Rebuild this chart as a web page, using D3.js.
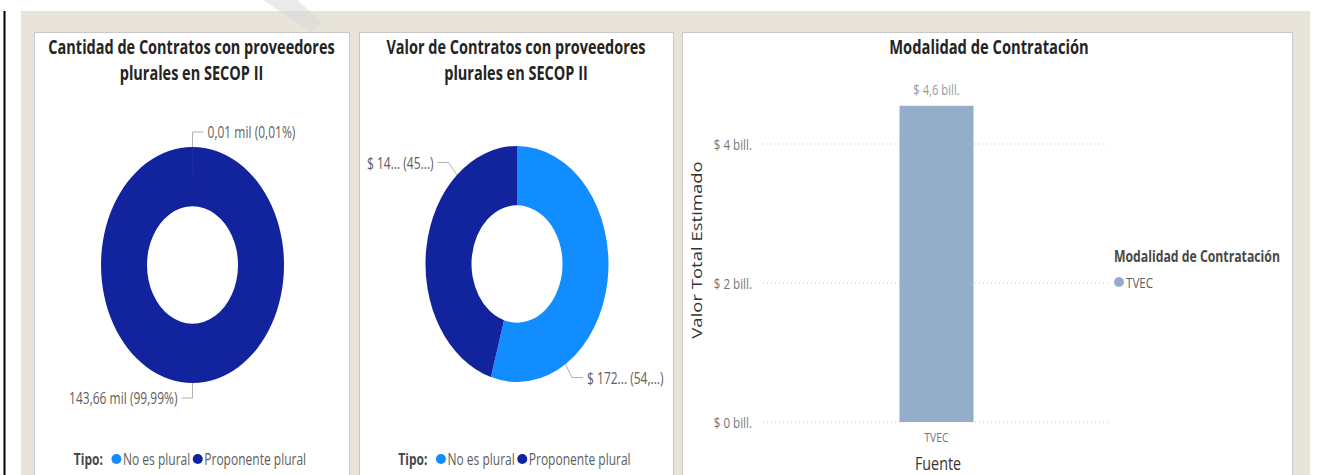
<!DOCTYPE html>
<html>
<head>
<meta charset="utf-8">
<script src="https://cdn.jsdelivr.net/npm/d3@7"></script>
<style>
  body { margin: 0; background: #fff; }
  svg text { font-family: "Open Sans", "Noto Sans", sans-serif; }
</style>
</head>
<body>
<svg id="chart" width="1317" height="475"></svg>
<script>
// data
const tipos = ["No es plural", "Proponente plural"];
const tipoColors = ["#118dff", "#12239e"];
const cantidadValues = [0.01, 143.66];          // mil contratos
const cantidadLabels = ["0,01 mil (0,01%)", "143,66 mil (99,99%)"];
const valorValues = [172, 143];                  // truncated in the visual
const valorLabels = ["$ 172... (54,...)", "$ 14... (45...)"];
const modalidades = ["TVEC"];
const modalidadValues = [4.55];                  // billones
const modalidadLabels = ["$ 4,6 bill."];
const yTicks = [0, 2, 4];

const sx = 0.775; // the screenshot is squeezed horizontally
const svg = d3.select("#chart");

function txt(parent, s, x, y, o = {}) {
    return parent.append("text")
        .attr("transform", `translate(${x},${y}) scale(${sx},1)` + (o.rotate ? ` rotate(${o.rotate})` : ""))
        .attr("text-anchor", o.anchor || "start")
        .attr("dominant-baseline", "central")
        .style("font-size", (o.size || 13) + "px")
        .style("font-weight", o.bold ? 700 : 400)
        .attr("fill", o.fill || "#605e5c")
        .text(s);
}

// page frame
svg.append("line").attr("x1", 4.5).attr("x2", 4.5).attr("y1", 11).attr("y2", 475)
    .attr("stroke", "#000").attr("stroke-width", 2);
svg.append("rect").attr("x", 21).attr("y", 11).attr("width", 1289).attr("height", 470).attr("fill", "#e8e4da");
svg.append("polygon").attr("points", "263,0 297,0 322,22 311,32").attr("fill", "#d6d6d6").attr("opacity", 0.5);

const panels = [
    {x: 34, w: 315},
    {x: 359, w: 314},
    {x: 682, w: 610}
];
panels.forEach(p => {
    svg.append("rect").attr("x", p.x + 0.5).attr("y", 32.5).attr("width", p.w).attr("height", 460)
        .attr("fill", "#fff").attr("stroke", "#c8c8c8");
});

// donuts
const rx = 91.5, ry = 118, inner = 45.5;
const pie = d3.pie().sort(null);
const arc = d3.arc().innerRadius(inner).outerRadius(rx);

function donut(panel, cx, cy, titleLines, values, labels, labelAngles) {
    const pc = panel.x + panel.w / 2;
    titleLines.forEach((t, i) => txt(svg, t, pc, 47 + i * 26, {anchor: "middle", size: 18.7, bold: true, fill: "#252423"}));

    const pieData = pie(values);
    const g = svg.append("g").attr("transform", `translate(${cx},${cy}) scale(1,${ry / rx})`);
    g.selectAll("path").data(pieData).join("path")
        .attr("d", arc)
        .attr("fill", (d, i) => tipoColors[i]);

    pieData.forEach((d, i) => {
        const a = labelAngles ? labelAngles[i] * Math.PI / 180 : (d.startAngle + d.endAngle) / 2;
        const ux = Math.sin(a), uy = -Math.cos(a);
        const p0 = [cx + rx * ux, cy + ry * uy];
        const len = 15;
        const n = Math.hypot(ux * rx, uy * ry);
        const p1 = [p0[0] + len * ux * rx / n, p0[1] + len * uy * ry / n];
        const right = ux >= 0;
        const p2 = [p1[0] + (right ? 11 : -11), p1[1]];
        svg.append("polyline").attr("points", [p0, p1, p2].join(" "))
            .attr("fill", "none").attr("stroke", "#b0b0b0").attr("stroke-width", 1);
        txt(svg, labels[i], p2[0] + (right ? 4 : -4), p2[1], {anchor: right ? "start" : "end", size: 15.5});
    });

    // legend
    const lg = svg.append("g");
    let x = 0;
    const t0 = txt(lg, "Tipo:", 0, 459, {size: 15.5, bold: true, fill: "#494744"});
    x += t0.node().getComputedTextLength() * sx + 9;
    tipos.forEach((t, i) => {
        lg.append("circle").attr("cx", x + 4.5).attr("cy", 459).attr("r", 5).attr("fill", tipoColors[i]);
        const tt = txt(lg, t, x + 11, 459, {size: 15.5});
        x += 11 + tt.node().getComputedTextLength() * sx + 3;
    });
    lg.attr("transform", `translate(${pc - x / 2},0)`);
}

donut(panels[0], 192.5, 265, ["Cantidad de Contratos con proveedores", "plurales en SECOP II"],
    cantidadValues, cantidadLabels, null);
donut(panels[1], 517, 264, ["Valor de Contratos con proveedores", "plurales en SECOP II"],
    valorValues, valorLabels, [148, 319]);

// bar chart
const p3 = panels[2];
txt(svg, "Modalidad de Contratación", p3.x + p3.w / 2 + 2, 47, {anchor: "middle", size: 19, bold: true, fill: "#252423"});

const x = d3.scaleBand().domain(modalidades).range([763, 1110]).paddingInner(0.2).paddingOuter(1.475);
const y = d3.scaleLinear().domain([0, 4]).range([422, 144]);

svg.append("g").selectAll("line").data(yTicks).join("line")
    .attr("x1", 763).attr("x2", 1110)
    .attr("y1", d => y(d)).attr("y2", d => y(d))
    .attr("stroke", "#c8c8c8").attr("stroke-dasharray", "1,3");
yTicks.forEach(t => txt(svg, `$ ${t} bill.`, 752, y(t), {anchor: "end", size: 15, fill: "#777"}));

svg.append("g").selectAll("rect").data(modalidadValues).join("rect")
    .attr("x", (d, i) => x(modalidades[i]))
    .attr("width", x.bandwidth())
    .attr("y", d => y(d))
    .attr("height", d => y(0) - y(d))
    .attr("fill", "#94aec9");
modalidadValues.forEach((d, i) => {
    txt(svg, modalidadLabels[i], x(modalidades[i]) + x.bandwidth() / 2, y(d) - 16, {anchor: "middle", size: 14.5, fill: "#999"});
    txt(svg, modalidades[i], x(modalidades[i]) + x.bandwidth() / 2, 437, {anchor: "middle", size: 13.5, fill: "#777"});
});
txt(svg, "Fuente", 938, 463, {anchor: "middle", size: 18.5, fill: "#333"});
txt(svg, "Valor Total Estimado", 696, 250, {anchor: "middle", size: 18.5, fill: "#333", rotate: -90});

// legend
txt(svg, "Modalidad de Contratación", 1114, 256, {size: 15.8, bold: true, fill: "#494744"});
modalidades.forEach((m, i) => {
    svg.append("circle").attr("cx", 1119).attr("cy", 282 + i * 20).attr("r", 5).attr("fill", "#94aec9");
    txt(svg, m, 1126, 282 + i * 20, {size: 15});
});
</script>
</body>
</html>
